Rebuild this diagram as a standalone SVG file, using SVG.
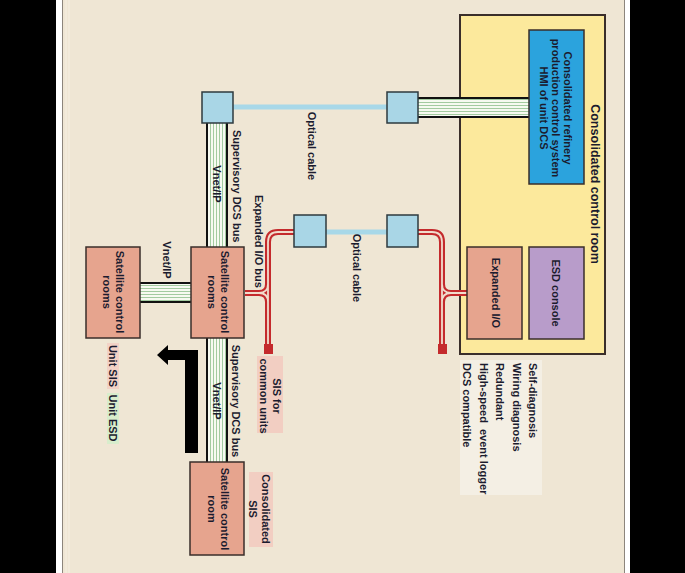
<svg xmlns="http://www.w3.org/2000/svg" width="685" height="573" viewBox="0 0 685 573">
<defs>
<pattern id="vstripe" patternUnits="userSpaceOnUse" width="3" height="3">
<rect width="3" height="3" fill="#F7FAF1"/>
<rect x="0" width="1" height="3" fill="#A3CBA0"/>
</pattern>
<pattern id="hstripe" patternUnits="userSpaceOnUse" width="3" height="3">
<rect width="3" height="3" fill="#F7FAF1"/>
<rect y="0" width="3" height="1" fill="#A3CBA0"/>
</pattern>
</defs>
<style>
.t{font-family:"Liberation Sans",Arial,sans-serif;font-weight:bold;font-size:11px;fill:#1B1B2E;dominant-baseline:central}
.box{stroke:#3A2E2A;stroke-width:1.5}
.sat{fill:#E6A48E}
.opt{fill:#A9D6E6;stroke:#2E3A3E;stroke-width:1.5}
.bus{stroke:#111;stroke-width:2}
.redo{fill:none;stroke:#C42A2C;stroke-width:6}
.redi{fill:none;stroke:#F1DCCC;stroke-width:1.8}
.fiber{stroke:#A8D8E8;stroke-width:5}
</style>
<rect width="685" height="573" fill="#000"/>
<rect x="56" y="0" width="574" height="573" fill="#FFFFFF"/>
<rect x="63" y="0" width="562" height="573" fill="#EFE6D4"/>
<line x1="62.5" y1="0" x2="62.5" y2="573" stroke="#8C857C" stroke-width="1"/>
<line x1="624.5" y1="0" x2="624.5" y2="573" stroke="#8C857C" stroke-width="1"/>
<line x1="66" y1="0" x2="66" y2="573" stroke="#F6EFE2" stroke-width="1"/>
<line x1="69" y1="0" x2="69" y2="573" stroke="#F6EFE2" stroke-width="1"/>

<g id="control-room">
<rect x="460" y="15" width="145" height="339" fill="#FCE99C" stroke="#3A2E2A" stroke-width="2"/>
<text class="t" style="font-size:12.5px" transform="translate(595,184) rotate(90)" text-anchor="middle">Consolidated control room</text>
</g>

<g id="features">
<rect x="460" y="360" width="82" height="135" fill="#F4EFE4"/>
<text class="t" transform="translate(533,363) rotate(90)" text-anchor="start"><tspan x="0" dy="0">Self-diagnosis</tspan><tspan x="0" dy="16.5">Wiring diagnosis</tspan><tspan x="0" dy="16.5">Redundant</tspan><tspan x="0" dy="16.5" xml:space="preserve">High-speed  event logger</tspan><tspan x="0" dy="16.5">DCS compatible</tspan></text>
</g>

<g id="connectors">
<rect x="418" y="98" width="111" height="19" fill="url(#hstripe)"/>
<line class="bus" x1="418" y1="98" x2="529" y2="98"/>
<line class="bus" x1="418" y1="117" x2="529" y2="117"/>
<rect x="207" y="123" width="20" height="124" fill="url(#vstripe)"/>
<line class="bus" x1="207" y1="123" x2="207" y2="247"/>
<line class="bus" x1="227" y1="123" x2="227" y2="247"/>
<rect x="207" y="338" width="20" height="124" fill="url(#vstripe)"/>
<line class="bus" x1="207" y1="338" x2="207" y2="462"/>
<line class="bus" x1="227" y1="338" x2="227" y2="462"/>
<rect x="140" y="283" width="51" height="19" fill="url(#hstripe)"/>
<line class="bus" x1="140" y1="283" x2="191" y2="283"/>
<line class="bus" x1="140" y1="302" x2="191" y2="302"/>
<line class="fiber" x1="233" y1="107" x2="387" y2="107"/>
<line class="fiber" x1="326" y1="232" x2="387" y2="232"/>
<path class="redo" d="M294,232 H278 Q268,232 268,242 V345 M245,293 H259 Q268,293 268,284 M259,293 Q268,293 268,302"/>
<path class="redi" d="M294,232 H278 Q268,232 268,242 V345 M245,293 H259 Q268,293 268,284 M259,293 Q268,293 268,302"/>
<path class="redo" d="M418,232 H432 Q442,232 442,242 V345 M467,293 H451 Q442,293 442,284 M451,293 Q442,293 442,302"/>
<path class="redi" d="M418,232 H432 Q442,232 442,242 V345 M467,293 H451 Q442,293 442,284 M451,293 Q442,293 442,302"/>
<rect x="264" y="344" width="9" height="10" fill="#C42A2C"/>
<rect x="438" y="344" width="9" height="10" fill="#C42A2C"/>
<polygon points="157,355 168,345 168,350 198,350 198,453 185,453 185,360 168,360 168,365" fill="#000"/>
</g>

<g id="hmi">
<rect class="box" x="529" y="30" width="55" height="154" fill="#2BA3DD"/>
<text class="t" transform="translate(568,108) rotate(90)" text-anchor="middle"><tspan x="0" dy="0">Consolidated refinery</tspan><tspan x="0" dy="12">production control system</tspan><tspan x="0" dy="12">HMI of unit DCS</tspan></text>
</g>

<g id="expanded-io">
<rect class="box" x="467" y="247" width="55" height="92" fill="#E6A48E"/>
<text class="t" transform="translate(496,293) rotate(90)" text-anchor="middle">Expanded I/O</text>
</g>

<g id="esd-console">
<rect class="box" x="529" y="247" width="55" height="92" fill="#B89CCA"/>
<text class="t" transform="translate(556,293) rotate(90)" text-anchor="middle">ESD console</text>
</g>

<g id="opt-node-1"><rect class="opt" x="202" y="92" width="31" height="31"/></g>
<g id="opt-node-2"><rect class="opt" x="387" y="92" width="31" height="31"/></g>
<g id="opt-node-3"><rect class="opt" x="294" y="215" width="32" height="32"/></g>
<g id="opt-node-4"><rect class="opt" x="387" y="215" width="31" height="32"/></g>

<g id="labels">
<text class="t" transform="translate(312,146) rotate(90)" text-anchor="middle">Optical cable</text>
<text class="t" transform="translate(357,268) rotate(90)" text-anchor="middle">Optical cable</text>
<text class="t" transform="translate(237,130) rotate(90)" text-anchor="start">Supervisory DCS bus</text>
<text class="t" transform="translate(217,184) rotate(90)" text-anchor="middle">Vnet/IP</text>
<text class="t" transform="translate(259,195) rotate(90)" text-anchor="start">Expanded I/O bus</text>
<text class="t" transform="translate(167,260) rotate(90)" text-anchor="middle">Vnet/IP</text>
<text class="t" transform="translate(236,401) rotate(90)" text-anchor="middle">Supervisory DCS bus</text>
<text class="t" transform="translate(217,401) rotate(90)" text-anchor="middle">Vnet/IP</text>
</g>

<g id="sat-center">
<rect class="box sat" x="191" y="247" width="53" height="91"/>
<text class="t" transform="translate(225,292) rotate(90)" text-anchor="middle"><tspan x="0" dy="0">Satellite control</tspan><tspan x="0" dy="13">rooms</tspan></text>
</g>

<g id="sat-left">
<rect class="box sat" x="86" y="247" width="54" height="91"/>
<text class="t" transform="translate(120,292) rotate(90)" text-anchor="middle"><tspan x="0" dy="0">Satellite control</tspan><tspan x="0" dy="13">rooms</tspan></text>
</g>

<g id="sat-bottom">
<rect class="box sat" x="190" y="462" width="54" height="93"/>
<text class="t" transform="translate(225,509) rotate(90)" text-anchor="middle"><tspan x="0" dy="0">Satellite control</tspan><tspan x="0" dy="13">room</tspan></text>
</g>

<g id="sis-common">
<rect x="257" y="356" width="26" height="77" fill="#F2CEC2"/>
<text class="t" transform="translate(277,396) rotate(90)" text-anchor="middle"><tspan x="0" dy="0">SIS for</tspan><tspan x="0" dy="13">common units</tspan></text>
</g>

<g id="sis-consolidated">
<rect x="249" y="472" width="24" height="75" fill="#F2CEC2"/>
<text class="t" transform="translate(266,509) rotate(90)" text-anchor="middle"><tspan x="0" dy="0">Consolidated</tspan><tspan x="0" dy="13">SIS</tspan></text>
</g>

<g id="unit-sis">
<rect x="107" y="343" width="12" height="46" fill="#F2D2C6"/>
<text class="t" transform="translate(113,366) rotate(90)" text-anchor="middle">Unit SIS</text>
</g>
<g id="unit-esd">
<rect x="107" y="393" width="12" height="51" fill="#D8EDCC"/>
<text class="t" transform="translate(113,418) rotate(90)" text-anchor="middle">Unit ESD</text>
</g>
</svg>
